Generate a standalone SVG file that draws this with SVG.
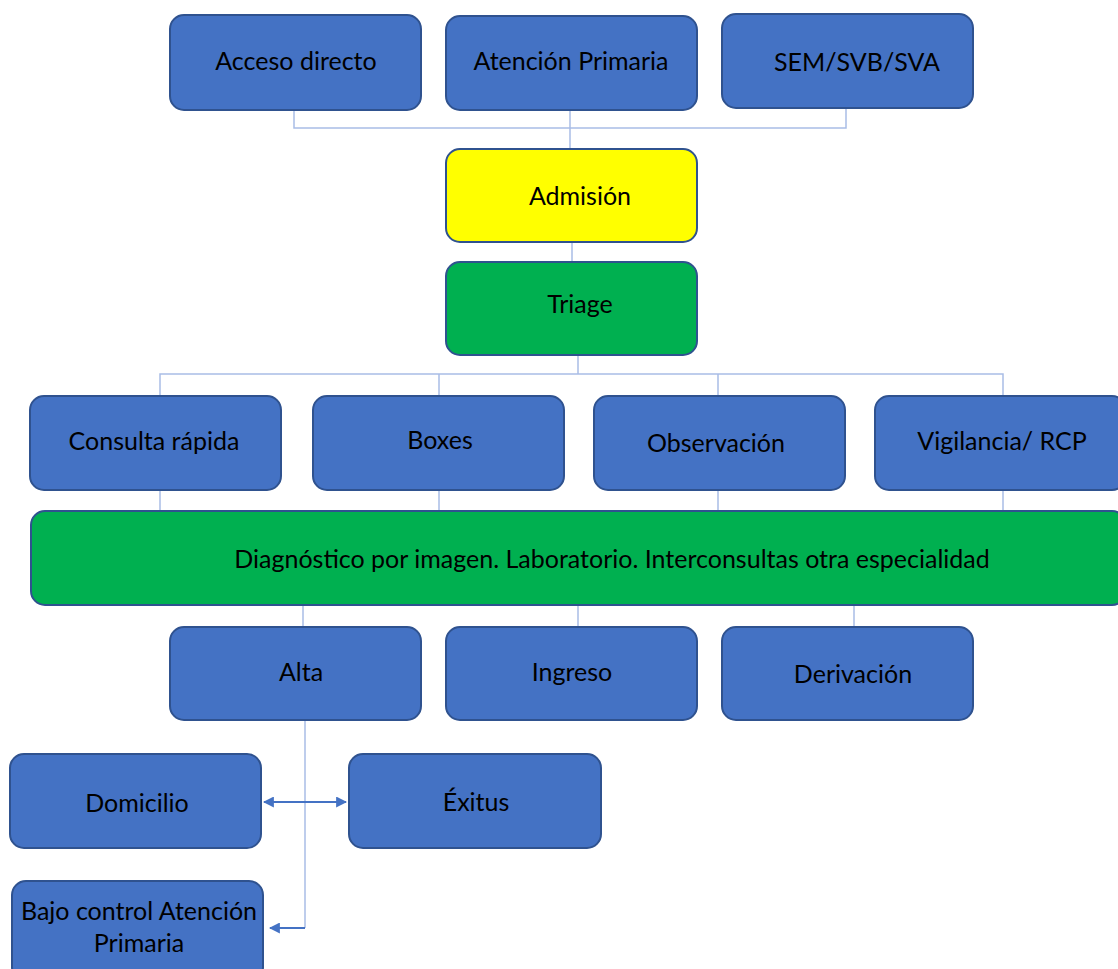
<svg xmlns="http://www.w3.org/2000/svg" width="1118" height="969" viewBox="0 0 1118 969">
<style>
.b{fill:#4472C4;stroke:#2F528F;stroke-width:2}
.y{fill:#FFFF00;stroke:#2F528F;stroke-width:2}
.g{fill:#00B050;stroke:#2F528F;stroke-width:2}
.t{font-family:"Lato","Open Sans","Liberation Sans",sans-serif;font-size:25px;fill:#000;text-anchor:middle;dominant-baseline:central}
.c{fill:none;stroke:#A9BDE6;stroke-width:1.5}
.a{fill:none;stroke:#4472C4;stroke-width:2}
</style>
<defs>
<marker id="ah" viewBox="0 0 10 10" refX="9" refY="5" markerWidth="5.5" markerHeight="5.5" orient="auto-start-reverse"><path d="M0,0L10,5L0,10z" fill="#4472C4"/></marker>
</defs>
<rect width="1118" height="969" fill="#fff"/>
<g id="connectors">
<path class="c" d="M294,110V128H846V108M570,110V149"/>
<path class="c" d="M572,242V262"/>
<path class="c" d="M578,355V374M160,396V374H1003V396M439,374V396M718,374V396"/>
<path class="c" d="M160,490V511M439,490V511M718,490V511M1003,490V511"/>
<path class="c" d="M303,605V627M578,605V627M854,605V627"/>
<path class="c" d="M305,720V928"/>
<path class="a" d="M305,928H270" marker-end="url(#ah)"/>
<path class="a" d="M264,802H346" marker-start="url(#ah)" marker-end="url(#ah)"/>
</g>
<g id="n1"><rect class="b" x="170" y="15" width="251" height="95" rx="14"/><text class="t" x="296" y="60">Acceso directo</text></g>
<g id="n2"><rect class="b" x="446" y="16" width="251" height="94" rx="14"/><text class="t" x="571" y="60">Atención Primaria</text></g>
<g id="n3"><rect class="b" x="722" y="14" width="251" height="94" rx="14"/><text class="t" x="857" y="61">SEM/SVB/SVA</text></g>
<g id="n4"><rect class="y" x="446" y="149" width="251" height="93" rx="14"/><text class="t" x="580" y="195">Admisión</text></g>
<g id="n5"><rect class="g" x="446" y="262" width="251" height="93" rx="14"/><text class="t" x="580" y="303">Triage</text></g>
<g id="n6"><rect class="b" x="30" y="396" width="251" height="94" rx="14"/><text class="t" x="154" y="440">Consulta rápida</text></g>
<g id="n7"><rect class="b" x="313" y="396" width="251" height="94" rx="14"/><text class="t" x="440" y="439">Boxes</text></g>
<g id="n8"><rect class="b" x="594" y="396" width="251" height="94" rx="14"/><text class="t" x="716" y="442">Observación</text></g>
<g id="n9"><rect class="b" x="875" y="396" width="251" height="94" rx="14"/><text class="t" x="1002" y="440">Vigilancia/ RCP</text></g>
<g id="n10"><rect class="g" x="31" y="511" width="1095" height="94" rx="14"/><text class="t" x="612" y="558">Diagnóstico por imagen. Laboratorio. Interconsultas otra especialidad</text></g>
<g id="n11"><rect class="b" x="170" y="627" width="251" height="93" rx="14"/><text class="t" x="301" y="671">Alta</text></g>
<g id="n12"><rect class="b" x="446" y="627" width="251" height="93" rx="14"/><text class="t" x="572" y="671">Ingreso</text></g>
<g id="n13"><rect class="b" x="722" y="627" width="251" height="93" rx="14"/><text class="t" x="853" y="673">Derivación</text></g>
<g id="n14"><rect class="b" x="10" y="754" width="251" height="94" rx="14"/><text class="t" x="137" y="802">Domicilio</text></g>
<g id="n15"><rect class="b" x="349" y="754" width="252" height="94" rx="14"/><text class="t" x="476" y="801">Éxitus</text></g>
<g id="n16"><rect class="b" x="12" y="881" width="251" height="100" rx="14"/><text class="t" x="139" y="910">Bajo control Atención</text><text class="t" x="139" y="942">Primaria</text></g>
</svg>
